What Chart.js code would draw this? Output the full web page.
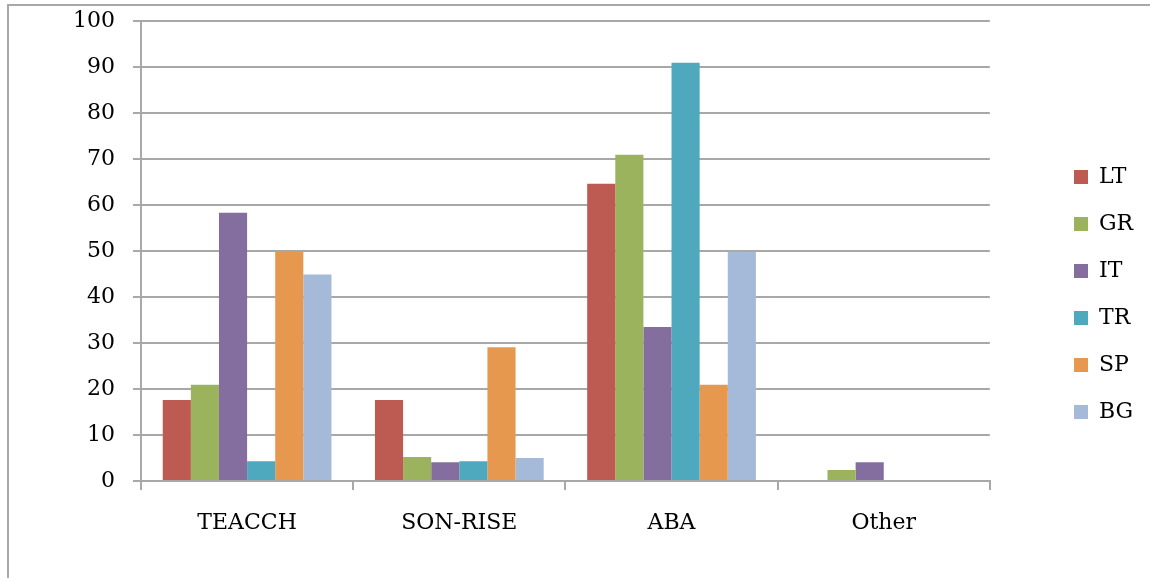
<!DOCTYPE html>
<html>
<head>
<meta charset="utf-8">
<script src="https://cdn.jsdelivr.net/npm/chart.js@4"></script>
<style>
  html, body { margin: 0; padding: 0; background: #fff; overflow: hidden; }
  #wrap { position: relative; width: 1150px; height: 578px; }
  #frame { position: absolute; left: 7px; top: 4px; width: 1300px; height: 700px; border: 2px solid #a8a8a8; }
  #chart { position: absolute; left: 0; top: 0; }
</style>
</head>
<body>
<div id="wrap">
  <div id="frame"></div>
  <canvas id="chart" width="1150" height="578"></canvas>
</div>
<script>
// methods on the x axis, one value per method for each group
const categories = ['TEACCH', 'SON-RISE', 'ABA', 'Other'];
const seriesNames = ['LT', 'GR', 'IT', 'TR', 'SP', 'BG'];
const LT = [17.6, 17.6, 64.6, 0];
const GR = [20.9, 5.2, 70.9, 2.4];
const IT = [58.3, 4.1, 33.5, 4.1];
const TR = [4.3, 4.3, 90.9, 0];
const SP = [50, 29.1, 20.9, 0];
const BG = [44.9, 5.0, 49.8, 0];
const yTicks = [0, 10, 20, 30, 40, 50, 60, 70, 80, 90, 100];

const colors = ['#bd5b53', '#9cb35e', '#846ea0', '#4ea9be', '#e6984f', '#a5b9d9'];
const values = [LT, GR, IT, TR, SP, BG];

const font = { family: 'DejaVu Serif', size: 22 };
const gridColor = '#a8a8a8';

// move legend to where the original had it
const legendX = 1074, legendY = 166;
const legendMover = {
    id: 'legendMover',
    afterLayout(chart) {
        const lg = chart.legend;
        if (!lg) return;
        const p = lg.options.labels.padding;
        const dx = legendX - (lg.left + p);
        const dy = legendY - (lg.top + p);
        lg.left += dx; lg.right += dx;
        lg.top += dy; lg.bottom += dy;
    }
};

new Chart(document.getElementById('chart'), {
    type: 'bar',
    data: {
        labels: categories,
        datasets: seriesNames.map((name, i) => ({
            label: name,
            data: values[i],
            backgroundColor: colors[i],
            borderWidth: 0,
            barPercentage: 1,
            categoryPercentage: 0.795
        }))
    },
    options: {
        responsive: false,
        animation: false,
        layout: { autoPadding: false, padding: { left: 0, top: 21, right: 66, bottom: 0 } },
        plugins: {
            legend: {
                position: 'right',
                align: 'start',
                labels: {
                    font: font,
                    color: '#000',
                    boxWidth: 14,
                    boxHeight: 14,
                    padding: 25
                }
            },
            tooltip: { enabled: false }
        },
        scales: {
            y: {
                min: 0,
                max: 100,
                afterBuildTicks: s => { s.ticks = yTicks.map(v => ({ value: v })); },
                afterFit: s => { s.width = 141; s.paddingTop = 0; s.paddingBottom = 0; },
                ticks: { font: font, color: '#000', padding: 18 },
                grid: { color: gridColor, lineWidth: 2, tickLength: 8 },
                border: { color: gridColor, width: 2 }
            },
            x: {
                afterFit: s => { s.height = 97; },
                ticks: { font: font, color: '#000', padding: 20 },
                grid: { offset: true, drawOnChartArea: false, color: gridColor, lineWidth: 2, tickLength: 9 },
                border: { color: gridColor, width: 2 }
            }
        }
    },
    plugins: [legendMover]
});
</script>
</body>
</html>
